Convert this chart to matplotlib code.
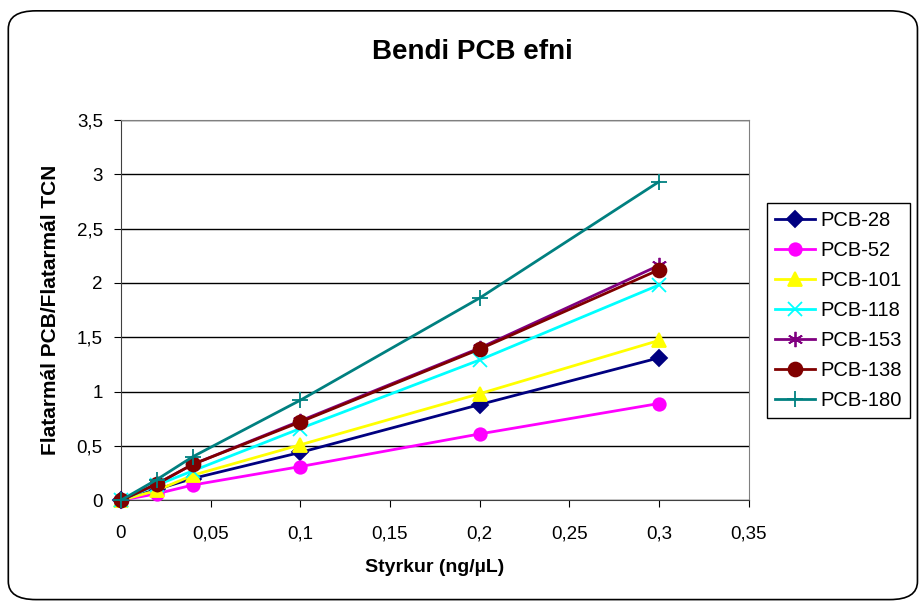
import numpy as np
import matplotlib
matplotlib.use("Agg")
import matplotlib.pyplot as plt
from matplotlib.patches import FancyBboxPatch
from matplotlib.ticker import FuncFormatter

plt.rcParams['font.family'] = ['Liberation Sans', 'DejaVu Sans']

x = [0, 0.02, 0.04, 0.1, 0.2, 0.3]
pcb28 = [0, 0.10, 0.20, 0.44, 0.88, 1.31]
pcb52 = [0, 0.06, 0.14, 0.31, 0.61, 0.89]
pcb101 = [0, 0.09, 0.23, 0.51, 0.98, 1.47]
pcb118 = [0, 0.14, 0.27, 0.66, 1.29, 1.98]
pcb153 = [0, 0.15, 0.33, 0.73, 1.40, 2.16]
pcb138 = [0, 0.15, 0.33, 0.72, 1.39, 2.12]
pcb180 = [0, 0.19, 0.40, 0.92, 1.86, 2.93]

series = [
    ("PCB-28", pcb28, "#000080", "D", 8),
    ("PCB-52", pcb52, "#ff00ff", "o", 9),
    ("PCB-101", pcb101, "#ffff00", "^", 10),
    ("PCB-118", pcb118, "#00ffff", "x", 10),
    ("PCB-153", pcb153, "#800080", (6, 2, 0), 11),
    ("PCB-138", pcb138, "#800000", "o", 10),
    ("PCB-180", pcb180, "#008080", "+", 12),
]

fig = plt.figure(figsize=(9.23, 6.02), dpi=100)
fig.patches.append(FancyBboxPatch((0.009, 0.004), 0.985, 0.978,
                                  boxstyle="round,pad=0,rounding_size=0.03",
                                  transform=fig.transFigure, fill=False,
                                  edgecolor="black", linewidth=1.2))

ax = fig.add_axes([0.131, 0.169, 0.680, 0.632])
for label, y, color, marker, ms in series:
    ax.plot(x, y, color=color, marker=marker, markersize=ms, linewidth=2,
            markeredgewidth=1.3, label=label, clip_on=False, zorder=3)

ax.set_xlim(0, 0.35)
ax.set_ylim(0, 3.5)
ax.set_xticks(np.arange(0, 0.351, 0.05))
ax.set_yticks(np.arange(0, 3.51, 0.5))
comma = FuncFormatter(lambda v, p: ("%g" % round(v, 2)).replace(".", ","))
ax.xaxis.set_major_formatter(comma)
ax.yaxis.set_major_formatter(comma)
ax.tick_params(labelsize=13.5, direction="out", length=5)
ax.tick_params(axis="x", pad=13)
ax.tick_params(axis="y", pad=8)
ax.grid(axis="y", color="black", linewidth=1)
ax.set_axisbelow(True)
for side in ["top", "right"]:
    ax.spines[side].set_color("#808080")
ax.spines["left"].set_color("#404040")
ax.spines["bottom"].set_color("#404040")

ax.set_xlabel("Styrkur (ng/µL)", fontsize=14, fontweight="bold", labelpad=12)
ax.set_ylabel("Flatarmál PCB/Flatarmál TCN", fontsize=15, fontweight="bold", labelpad=12)
fig.text(0.512, 0.913, "Bendi PCB efni", fontsize=20, fontweight="bold", ha="center", va="center")

leg = ax.legend(loc="upper left", bbox_to_anchor=(1.0, 0.83), fontsize=14.5,
                frameon=True, fancybox=False, edgecolor="black", framealpha=1,
                borderpad=0.4, labelspacing=0.55, handlelength=2.0, handletextpad=0.25,
                borderaxespad=0.9)
leg.get_frame().set_linewidth(1)

plt.savefig("out.png", dpi=100)
